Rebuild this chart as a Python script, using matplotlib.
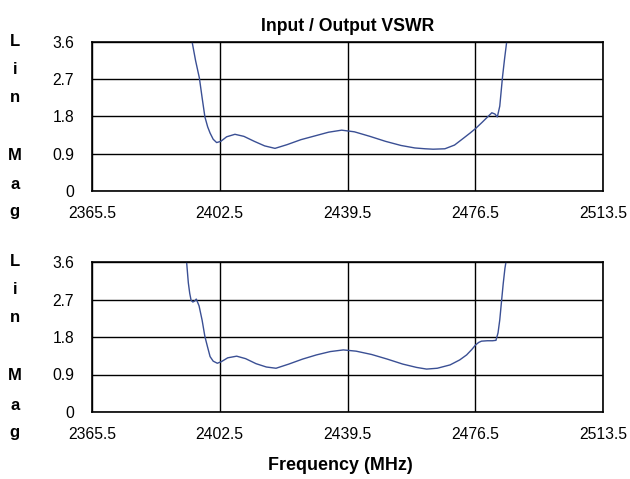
import numpy as np
import matplotlib
matplotlib.use("Agg")
import matplotlib.pyplot as plt

# frequência (MHz) e VSWR
freq_in = [2393.5, 2394.5, 2395.5, 2396.6, 2397.4, 2398.2, 2399.0, 2399.7, 2400.6, 2401.6,
           2402.8, 2404.5, 2406.9, 2409.5, 2412.5, 2415.5, 2418.5, 2422.0, 2426.0, 2430.0,
           2434.0, 2437.8, 2441.5, 2446.0, 2450.5, 2455.0, 2459.0, 2462.0, 2464.3, 2467.7,
           2470.5, 2473.0, 2475.0, 2476.6, 2478.5, 2480.2, 2481.3, 2482.2, 2482.9, 2483.6,
           2484.4, 2485.0, 2485.6, 2486.2]
vswr_in = [4.2, 3.6, 3.15, 2.73, 2.25, 1.79, 1.55, 1.40, 1.25, 1.17,
           1.20, 1.31, 1.37, 1.32, 1.20, 1.09, 1.03, 1.12, 1.24, 1.33,
           1.42, 1.47, 1.43, 1.32, 1.20, 1.10, 1.04, 1.02, 1.01, 1.02,
           1.11, 1.27, 1.40, 1.51, 1.66, 1.80, 1.89, 1.86, 1.79, 2.05,
           2.76, 3.2, 3.6, 4.1]

freq_out = [2392.6, 2392.9, 2393.4, 2393.8, 2394.2, 2394.7, 2395.2, 2395.7, 2396.5, 2397.4,
            2398.2, 2399.0, 2399.7, 2400.6, 2401.8, 2403.0, 2404.8, 2407.4, 2410.0, 2413.0,
            2416.0, 2418.8, 2422.5, 2426.5, 2430.5, 2434.5, 2438.3, 2442.0, 2446.5, 2451.0,
            2455.5, 2459.5, 2462.4, 2465.5, 2469.2, 2472.0, 2474.0, 2475.5, 2476.6, 2477.5,
            2478.3, 2480.0, 2481.5, 2482.5, 2483.1, 2483.6, 2484.1, 2484.6, 2485.1, 2485.4,
            2485.8]
vswr_out = [4.2, 3.6, 3.1, 2.85, 2.68, 2.64, 2.66, 2.71, 2.55, 2.20,
            1.81, 1.55, 1.33, 1.22, 1.17, 1.21, 1.30, 1.34, 1.28, 1.16,
            1.08, 1.05, 1.15, 1.27, 1.37, 1.45, 1.49, 1.46, 1.38, 1.27,
            1.15, 1.07, 1.03, 1.05, 1.13, 1.25, 1.37, 1.50, 1.61, 1.67,
            1.70, 1.71, 1.71, 1.72, 1.90, 2.21, 2.65, 3.08, 3.45, 3.6,
            4.0]

xticks = [2365.5, 2402.5, 2439.5, 2476.5, 2513.5]
yticks = [0, 0.9, 1.8, 2.7, 3.6]
ytick_labels = ["0", "0.9", "1.8", "2.7", "3.6"]

plt.rcParams['font.family'] = ['Liberation Sans', 'DejaVu Sans']
cor_linha = '#3a4f94'

fig = plt.figure(figsize=(6.3, 4.79), dpi=100)
ax1 = fig.add_axes([92/630, (479-191)/479, 511/630, 149/479])
ax2 = fig.add_axes([92/630, (479-412)/479, 511/630, 150/479])

for ax, f, v in [(ax1, freq_in, vswr_in), (ax2, freq_out, vswr_out)]:
    ax.plot(f, v, color=cor_linha, lw=1.0)
    ax.set_xlim(xticks[0], xticks[-1])
    ax.set_ylim(0, 3.6)
    ax.set_xticks(xticks)
    ax.set_xticklabels([str(t) for t in xticks])
    ax.set_yticks(yticks)
    ax.set_yticklabels(ytick_labels)
    ax.tick_params(length=0, labelsize=11.3, pad=11)
    ax.tick_params(axis='y', pad=13)
    ax.grid(True, color='black', lw=1.0)
    for s in ax.spines.values():
        s.set_color('black')
        s.set_linewidth(1.2)
    # rótulo vertical letra por letra
    for letra, yy in zip(["L", "i", "n", "M", "a", "g"], [0.0, 0.185, 0.37, 0.76, 0.955, 1.14]):
        ax.text(-0.151, 1.0 - yy, letra, transform=ax.transAxes, ha='center', va='center',
                fontsize=12, fontweight='bold')

ax1.set_title("Input / Output VSWR", fontsize=12.7, fontweight='bold', pad=8)
fig.text(340/630, 1 - 466/479, "Frequency (MHz)", ha='center', va='center',
         fontsize=12.9, fontweight='bold')

plt.savefig("out.png", dpi=100)
